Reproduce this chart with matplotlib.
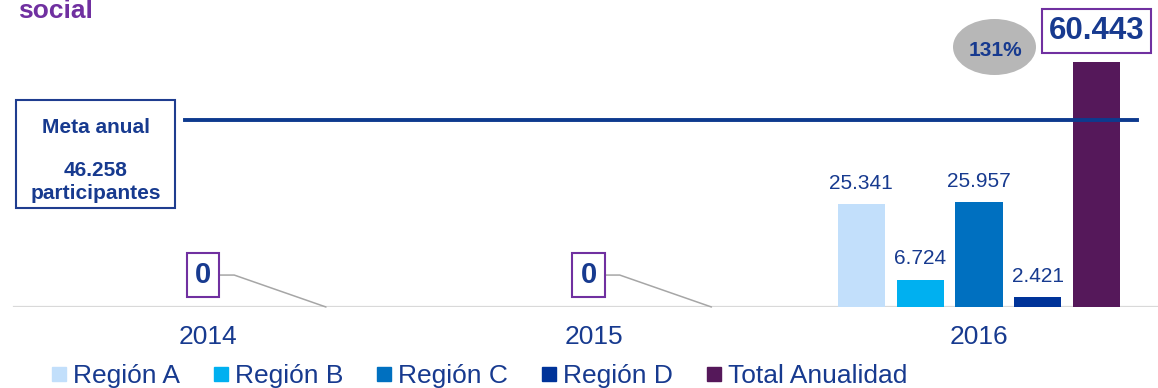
import matplotlib.pyplot as plt
from matplotlib.lines import Line2D
from matplotlib.patches import Rectangle, Ellipse

plt.rcParams['font.family'] = ['Liberation Sans', 'DejaVu Sans']

# data
years = ['2014', '2015', '2016']
regions = ['Región A', 'Región B', 'Región C', 'Región D']
region_vals = [
    [0, 0, 25341],   # Región A
    [0, 0, 6724],    # Región B
    [0, 0, 25957],   # Región C
    [0, 0, 2421],    # Región D
]
total_vals = [0, 0, 60443]
meta = 46258

colors = ['#c2dffb', '#00b0f0', '#0070c0', '#003399', '#55185a']
blue_txt = '#173a8f'
purple = '#7030a0'

def fmt(v):
    return f'{v:,}'.replace(',', '.')

W, H = 1158, 388
fig = plt.figure(figsize=(W / 100, H / 100), dpi=100)
ax = fig.add_axes([0, 81 / H, 1, 307 / H])
ax.set_xlim(-208 / 385.5, 950 / 385.5)
ax.set_ylim(0, 75800)

step = 0.153
width = 0.122
x = list(range(len(years)))

for k, name in enumerate(regions):
    xs = [i + (k - 2) * step for i in x]
    ax.bar(xs, region_vals[k], width, color=colors[k], zorder=2)
    for xi, v in zip(xs, region_vals[k]):
        if v > 0:
            ax.annotate(fmt(v), (xi, v), xytext=(0, 11), textcoords='offset points',
                        ha='center', va='baseline', fontsize=15, color=blue_txt)

xt = [i + 2 * step for i in x]
ax.bar(xt, total_vals, width, color=colors[4], zorder=2)
for xi, v in zip(xt, total_vals):
    if v > 0:
        ax.annotate(fmt(v), (xi, v), xytext=(-0.5, 22.5), textcoords='offset points',
                    ha='center', va='center', fontsize=22.5, fontweight='bold', color=blue_txt,
                    bbox=dict(boxstyle='square,pad=0.22', fc='white', ec=purple, lw=1.5))
    else:
        # zero totals get a boxed label with a leader line
        ax.annotate(fmt(v), (xi, v), xytext=(-88.5, 23), textcoords='offset points',
                    ha='center', va='center', fontsize=21, fontweight='bold', color=blue_txt,
                    bbox=dict(boxstyle='square,pad=0.28', fc='white', ec=purple, lw=1.5),
                    arrowprops=dict(arrowstyle='-', color='#a6a6a6', lw=1.1,
                                    connectionstyle='angle,angleA=0,angleB=160.8,rad=0',
                                    shrinkA=0, shrinkB=0))

# annual goal line
ax.axhline(meta, xmin=185 / W, xmax=1137 / W, color='#0d3a8e', lw=2.8, zorder=3)

# baseline
ax.axhline(0, xmin=14 / W, xmax=1157 / W, color='#d9d9d9', lw=1.6, zorder=1)

for s in ax.spines.values():
    s.set_visible(False)
ax.set_yticks([])
ax.set_xticks(x)
ax.set_xticklabels(years, fontsize=19, color=blue_txt)
ax.tick_params(axis='x', length=0, pad=13)

# goal box on the left
fig.add_artist(Rectangle((16 / W, 1 - 208 / H), 159 / W, 108 / H, transform=fig.transFigure,
                         fill=False, ec='#1f3d8f', lw=1.5))
fig.text(95.5 / W, 1 - 133 / H, 'Meta anual', ha='center', va='baseline',
         fontsize=15, fontweight='bold', color=blue_txt)
fig.text(95.5 / W, 1 - 176 / H, fmt(meta), ha='center', va='baseline',
         fontsize=15, fontweight='bold', color=blue_txt)
fig.text(95.5 / W, 1 - 199 / H, 'participantes', ha='center', va='baseline',
         fontsize=15, fontweight='bold', color=blue_txt)

# percentage of the goal reached
pct = round(total_vals[-1] / meta * 100)
fig.add_artist(Ellipse((994.5 / W, 1 - 47 / H), 83 / W, 56 / H, transform=fig.transFigure,
                       fc='#b7b7b7', ec='none'))
fig.text(995 / W, 1 - 50 / H, f'{pct}%', ha='center', va='center',
         fontsize=15, fontweight='bold', color=blue_txt)

fig.text(18 / W, 1 - 18 / H, 'social', ha='left', va='baseline',
         fontsize=19, fontweight='bold', color=purple)

handles = [Line2D([], [], marker='s', ls='', ms=10, color=c) for c in colors]
fig.legend(handles, regions + ['Total Anualidad'], loc='center left',
           bbox_to_anchor=(51 / W, 12 / H), ncol=5, frameon=False, fontsize=19,
           handlelength=0.6, handletextpad=0.23, columnspacing=1.25,
           borderpad=0, borderaxespad=0, labelcolor=blue_txt)

fig.savefig('out.png', dpi=100)
